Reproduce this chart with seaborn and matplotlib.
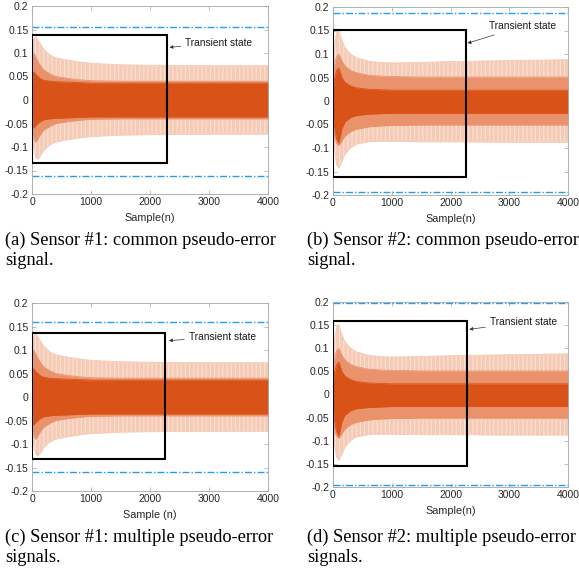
import numpy as np
import pandas as pd
import matplotlib
matplotlib.use("Agg")
import matplotlib.pyplot as plt
import seaborn as sns
from matplotlib.patches import Rectangle

# ---------------- data ----------------
samples = [0, 30, 60, 100, 150, 200, 300, 400, 600, 800, 1000, 1500, 2000, 3000, 4000]

# sensor #1 (panels a, c)
s1_outer_hi = [0.03, 0.13, 0.135, 0.128, 0.118, 0.108, 0.096, 0.09, 0.085, 0.081, 0.078, 0.075, 0.074, 0.073, 0.073]
s1_outer_lo = [-0.03, -0.10, -0.122, -0.126, -0.118, -0.108, -0.096, -0.09, -0.085, -0.081, -0.078, -0.075, -0.074, -0.073, -0.073]
s1_mid_hi = [0.03, 0.10, 0.092, 0.082, 0.072, 0.064, 0.056, 0.05, 0.046, 0.043, 0.041, 0.04, 0.04, 0.04, 0.04]
s1_mid_lo = [-0.03, -0.08, -0.09, -0.082, -0.072, -0.064, -0.056, -0.05, -0.046, -0.043, -0.041, -0.04, -0.04, -0.04, -0.04]
s1_core_hi = [0.02, 0.06, 0.055, 0.05, 0.045, 0.042, 0.04, 0.039, 0.038, 0.037, 0.036, 0.036, 0.036, 0.036, 0.036]
s1_core_lo = [-0.02, -0.06, -0.055, -0.05, -0.045, -0.042, -0.04, -0.039, -0.038, -0.037, -0.036, -0.036, -0.036, -0.036, -0.036]

# sensor #2 (panels b, d)
s2_outer_hi = [0.04, 0.12, 0.145, 0.152, 0.13, 0.115, 0.1, 0.092, 0.085, 0.082, 0.081, 0.082, 0.084, 0.086, 0.088]
s2_outer_lo = [-0.04, -0.11, -0.135, -0.143, -0.13, -0.115, -0.1, -0.092, -0.087, -0.086, -0.086, -0.087, -0.087, -0.088, -0.088]
s2_mid_hi = [0.03, 0.08, 0.095, 0.1, 0.085, 0.075, 0.065, 0.06, 0.055, 0.053, 0.052, 0.051, 0.051, 0.051, 0.051]
s2_mid_lo = [-0.03, -0.08, -0.09, -0.095, -0.085, -0.075, -0.065, -0.06, -0.055, -0.053, -0.052, -0.051, -0.051, -0.051, -0.051]
s2_core_hi = [0.02, 0.05, 0.065, 0.07, 0.05, 0.04, 0.032, 0.028, 0.025, 0.024, 0.023, 0.023, 0.023, 0.023, 0.023]
s2_core_lo = [-0.02, -0.06, -0.08, -0.09, -0.06, -0.045, -0.035, -0.031, -0.028, -0.027, -0.026, -0.026, -0.026, -0.026, -0.026]

# thresholds (upper, lower)
thresholds = {"a": (0.155, -0.162), "b": (0.188, -0.194), "c": (0.159, -0.160), "d": (0.198, -0.196)}
# transient-state box: (x_end, y_low, y_high)
boxes = {"a": (2283, -0.133, 0.139), "b": (2264, -0.162, 0.152), "c": (2254, -0.131, 0.136), "d": (2281, -0.155, 0.158)}
# annotation: text position (x, y) and arrow head (x, y)
notes = {"a": ((2600, 0.122), (2330, 0.112)),
         "b": ((2650, 0.159), (2290, 0.123)),
         "c": ((2660, 0.128), (2320, 0.120)),
         "d": ((2670, 0.156), (2320, 0.141))}
xlabels = {"a": "Sample(n)", "b": "Sample(n)", "c": "Sample (n)", "d": "Sample(n)"}
captions = {"a": "(a) Sensor #1: common pseudo-error\nsignal.",
            "b": "(b) Sensor #2: common pseudo-error\nsignal.",
            "c": "(c) Sensor #1: multiple pseudo-error\nsignals.",
            "d": "(d) Sensor #2: multiple pseudo-error\nsignals."}
yticks = [-0.2, -0.15, -0.1, -0.05, 0, 0.05, 0.1, 0.15, 0.2]
ytick_labels = ["-0.2", "-0.15", "-0.1", "-0.05", "0", "0.05", "0.1", "0.15", "0.2"]
xticks = [0, 1000, 2000, 3000, 4000]
xtick_labels = ["0", "1000", "2000", "3000", "4000"]

sensor_data = {
    1: (s1_outer_hi, s1_outer_lo, s1_mid_hi, s1_mid_lo, s1_core_hi, s1_core_lo),
    2: (s2_outer_hi, s2_outer_lo, s2_mid_hi, s2_mid_lo, s2_core_hi, s2_core_lo),
}
panel_sensor = {"a": 1, "b": 2, "c": 1, "d": 2}

# ---------------- style ----------------
sns.set_theme(style="white")
plt.rcParams["font.family"] = ["Liberation Sans", "DejaVu Sans"]
plt.rcParams["axes.unicode_minus"] = False
plt.rcParams["hatch.linewidth"] = 0.8

W, H = 579, 572
fig = plt.figure(figsize=(W / 100, H / 100), dpi=100)

# axes rectangles in pixels: left, top, right, bottom
ax_px = {"a": (32, 6, 268, 194), "b": (333, 7, 568, 195),
         "c": (32, 303, 268, 491), "d": (333, 302, 568, 487)}
# caption anchor (left x, vertical centre of the two lines)
cap_px = {"a": (5, 250), "b": (307, 250), "c": (5, 547), "d": (307, 547)}

c_outer = "#f6cbb6"
c_mid = "#e9926c"
c_core = "#d95319"
c_thr = "#1f9ef2"
tick_col = "#262626"
spine_col = "#a6a6a6"

for key in ["a", "b", "c", "d"]:
    l, t, r, b = ax_px[key]
    ax = fig.add_axes([l / W, 1 - b / H, (r - l) / W, (b - t) / H])
    ohi, olo, mhi, mlo, chi, clo = sensor_data[panel_sensor[key]]
    df = pd.DataFrame({"sample": samples, "ohi": ohi, "olo": olo,
                       "mhi": mhi, "mlo": mlo, "chi": chi, "clo": clo})
    ax.fill_between(df["sample"], df["olo"], df["ohi"], color=c_outer, lw=0,
                    hatch="||||", edgecolor="#fae0d3")
    ax.fill_between(df["sample"], df["mlo"], df["mhi"], color=c_mid, lw=0)
    ax.fill_between(df["sample"], df["clo"], df["chi"], color=c_core, lw=0)
    for col, cc in [("ohi", c_outer), ("olo", c_outer), ("mhi", c_mid), ("mlo", c_mid),
                    ("chi", c_core), ("clo", c_core)]:
        sns.lineplot(data=df, x="sample", y=col, ax=ax, color=cc, lw=0.6, legend=False)

    up, lo = thresholds[key]
    for v in (up, lo):
        ax.axhline(v, color=c_thr, lw=1.0, ls=(0, (5, 1.5, 1, 1.5)))

    xe, yl, yh = boxes[key]
    ax.add_patch(Rectangle((0, yl), xe, yh - yl, fill=False, ec="black", lw=1.5, zorder=5))

    (tx, ty), (hx, hy) = notes[key]
    ax.annotate("Transient state", xy=(hx, hy), xytext=(tx, ty),
                fontsize=7.3, color="#1a1a1a", va="center", ha="left",
                arrowprops=dict(arrowstyle="-|>", color="#333333", lw=0.5,
                                mutation_scale=5, shrinkA=1, shrinkB=0))

    ax.set_xlim(0, 4000)
    ax.set_ylim(-0.2, 0.2)
    ax.set_xticks(xticks)
    ax.set_xticklabels(xtick_labels)
    ax.set_yticks(yticks)
    ax.set_yticklabels(ytick_labels)
    ax.set_xlabel(xlabels[key], fontsize=7.8, color=tick_col, labelpad=4)
    ax.set_ylabel("")
    ax.tick_params(direction="in", length=3, width=0.5, color=spine_col,
                   labelsize=7.5, labelcolor=tick_col, pad=2.5,
                   top=True, right=True, left=True, bottom=True)
    for s in ax.spines.values():
        s.set_color(spine_col)
        s.set_linewidth(0.6)

    cx, cy = cap_px[key]
    fig.text(cx / W, 1 - cy / H, captions[key], family=["Liberation Serif", "DejaVu Serif"],
             fontsize=13.2, color="black", va="center", ha="left", linespacing=1.25)

fig.savefig("out.png", dpi=100)
